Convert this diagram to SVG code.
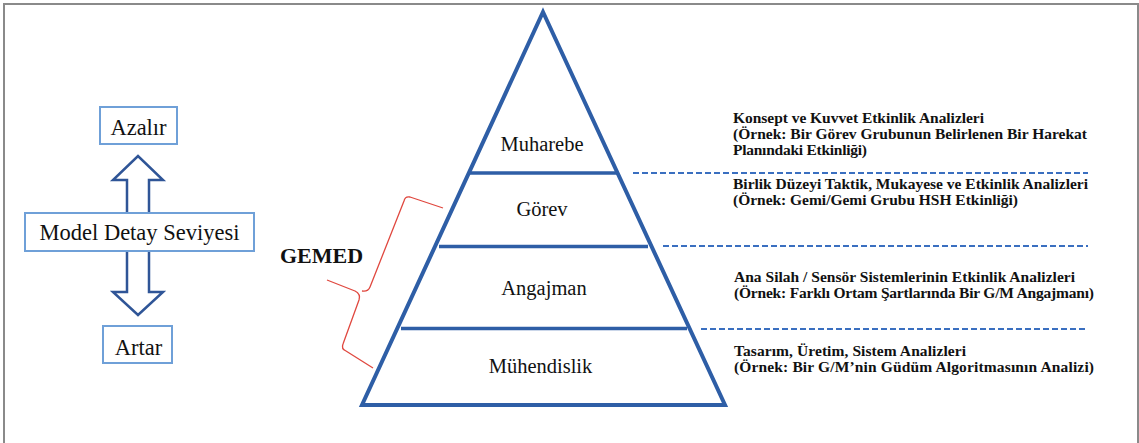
<svg xmlns="http://www.w3.org/2000/svg" width="1139" height="443" viewBox="0 0 1139 443">
<style>
.frame{fill:none;stroke:#8a8a8a;stroke-width:2}
.box{fill:#fff;stroke:#6fa0d8;stroke-width:2}
.arrow{fill:#fff;stroke:#2f5597;stroke-width:2.5;stroke-linejoin:miter}
.lbl{font-family:"Liberation Serif","Times New Roman",serif;font-size:22.5px;fill:#111;text-anchor:middle}
.tier{font-family:"Liberation Serif","Times New Roman",serif;font-size:20.5px;fill:#111;text-anchor:middle}
.desc{font-family:"Liberation Serif","Times New Roman",serif;font-size:15.5px;font-weight:bold;fill:#111}
.pyr{fill:none;stroke:#2e5ea6;stroke-width:4;stroke-linejoin:miter}
.tierline{stroke:#2e5ea6;stroke-width:3.5}
.dash{stroke:#3a6fc0;stroke-width:2;stroke-dasharray:6 3}
.brace{fill:none;stroke:#e0483f;stroke-width:1.3;stroke-linejoin:round}
</style>
<rect width="1139" height="443" fill="#fff"/>
<path class="frame" d="M4,443 L4,4 L1138,4 L1138,443"/>

<g id="connectors">
<path class="arrow" d="M127,214 L127,180 L113,180 L138,156 L163,180 L149,180 L149,214"/>
<path class="arrow" d="M127,250 L127,292 L113,292 L138,315 L163,292 L149,292 L149,250"/>
<line class="dash" x1="633" y1="173" x2="1088" y2="173"/>
<line class="dash" x1="663" y1="246" x2="1088" y2="246"/>
<line class="dash" x1="701" y1="329" x2="1088" y2="329"/>
<path class="brace" d="M443,208 L410,197 Q405,196 404,201 L370,287 Q368,292 362,291"/>
<path class="brace" d="M327,280 L355,291 Q361,294 359,300 L343,344 Q341,349 346,351 L373,368"/>
</g>

<g id="azalir">
<rect class="box" x="100" y="107" width="77" height="37"/>
<text class="lbl" x="138.5" y="135">Azalır</text>
</g>
<g id="model-detay">
<rect class="box" x="25" y="213" width="229" height="38"/>
<text class="lbl" x="139.5" y="240">Model Detay Seviyesi</text>
</g>
<g id="artar">
<rect class="box" x="103" y="326" width="69" height="37"/>
<text class="lbl" x="138.5" y="355">Artar</text>
</g>

<g id="pyramid">
<path class="pyr" d="M543,12 L725,405 L362,405 Z"/>
<line class="tierline" x1="469" y1="173" x2="617" y2="173"/>
<line class="tierline" x1="439" y1="246.5" x2="648" y2="246.5"/>
<line class="tierline" x1="401" y1="328.5" x2="687" y2="328.5"/>
</g>
<g id="muharebe"><text class="tier" x="542" y="151">Muharebe</text></g>
<g id="gorev"><text class="tier" x="542" y="216">Görev</text></g>
<g id="angajman"><text class="tier" x="544" y="295">Angajman</text></g>
<g id="muhendislik"><text class="tier" x="540.5" y="373">Mühendislik</text></g>

<g id="gemed">
<text x="280" y="263" style="font-family:'Liberation Serif','Times New Roman',serif;font-size:22px;font-weight:bold;fill:#111">GEMED</text>
</g>

<g id="desc-muharebe">
<text class="desc" x="733" y="123" textLength="251" lengthAdjust="spacing">Konsept ve Kuvvet Etkinlik Analizleri</text>
<text class="desc" x="733" y="139" textLength="354" lengthAdjust="spacing">(Örnek: Bir Görev Grubunun Belirlenen Bir Harekat</text>
<text class="desc" x="733" y="155" textLength="134" lengthAdjust="spacing">Planındaki Etkinliği)</text>
</g>
<g id="desc-gorev">
<text class="desc" x="733" y="189" textLength="355" lengthAdjust="spacing">Birlik Düzeyi Taktik, Mukayese ve Etkinlik Analizleri</text>
<text class="desc" x="733" y="205" textLength="285" lengthAdjust="spacing">(Örnek: Gemi/Gemi Grubu HSH Etkinliği)</text>
</g>
<g id="desc-angajman">
<text class="desc" x="734" y="282" textLength="341" lengthAdjust="spacing">Ana Silah / Sensör Sistemlerinin Etkinlik Analizleri</text>
<text class="desc" x="734" y="298" textLength="360" lengthAdjust="spacing">(Örnek: Farklı Ortam Şartlarında Bir G/M Angajmanı)</text>
</g>
<g id="desc-muhendislik">
<text class="desc" x="734" y="356" textLength="232" lengthAdjust="spacing">Tasarım, Üretim, Sistem Analizleri</text>
<text class="desc" x="734" y="372" textLength="360" lengthAdjust="spacing">(Örnek: Bir G/M’nin Güdüm Algoritmasının Analizi)</text>
</g>
</svg>
